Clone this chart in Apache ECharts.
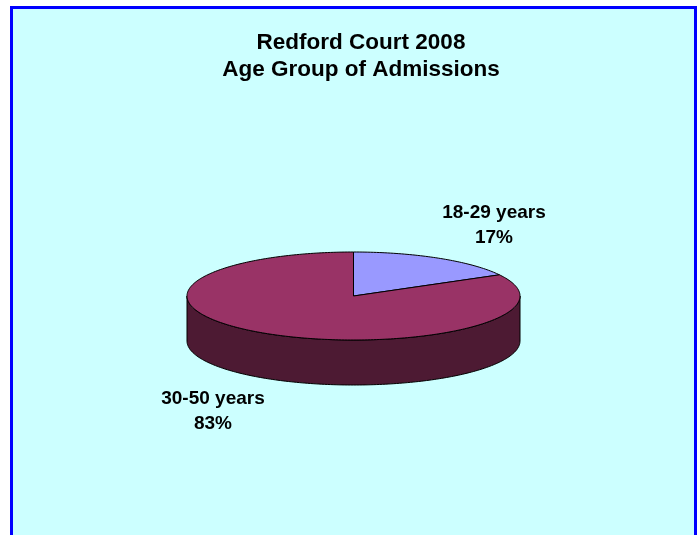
<!DOCTYPE html>
<html>
<head>
<meta charset="utf-8">
<script src="https://cdn.jsdelivr.net/npm/echarts@6/dist/echarts.min.js"></script>
<style>
  html, body { margin: 0; padding: 0; background: #fff; }
  #chart { width: 699px; height: 535px; }
</style>
</head>
<body>
<div id="chart"></div>
<script>
var titleLines = ['Redford Court 2008', 'Age Group of Admissions'];
var categories = ['18-29 years', '30-50 years'];
var values = [17, 83];
var topColors = ['#9999FF', '#993366'];
var sideColors = ['#4D4D80', '#4D1A33'];

// pie geometry (ellipse of the top face, depth of the side)
var cx = 353.5, cy = 296, rx = 166.5, ry = 44, depth = 45;
var labelRx = 276, labelRy = 82;

var total = values.reduce(function ( a, b ) { return a + b }, 0);
var starts = [];
var acc = 0;
for ( var i = 0; i < values.length; i++ ) {
    starts.push( acc / total * Math.PI * 2 );
    acc += values[i];
}

function pt( t, dy ) {
    return [cx + rx * Math.sin( t ), cy - ry * Math.cos( t ) + ( dy || 0 )];
}
function arc( a0, a1, dy ) {
    var pts = [];
    var n = Math.max( 2, Math.ceil(( a1 - a0 ) / ( Math.PI / 180 ) ) );
    for ( var k = 0; k <= n; k++ ) {
        pts.push( pt( a0 + ( a1 - a0 ) * k / n, dy ) );
    }
    return pts;
}

function renderSlice( params, api ) {
    var i = params.dataIndex;
    var v = api.value( 0 );
    var a0 = starts[i];
    var a1 = a0 + v / total * Math.PI * 2;
    var children = [];

    // front side wall (visible where the rim faces the viewer)
    var s = Math.max( a0, Math.PI / 2 ), e = Math.min( a1, Math.PI * 1.5 );
    if ( e > s ) {
        var topRim = arc( s, e, 0 );
        var botRim = arc( s, e, depth ).reverse();
        children.push( {
            type: 'polygon',
            z2: 1,
            shape: { points: topRim.concat( botRim ) },
            style: { fill: sideColors[i], stroke: '#000', lineWidth: 1 }
        } );
    }

    // top face
    children.push( {
        type: 'polygon',
        z2: 10,
        shape: { points: [[cx, cy]].concat( arc( a0, a1, 0 ) ) },
        style: { fill: topColors[i], stroke: '#000', lineWidth: 1 }
    } );

    // label outside the slice
    var mid = ( a0 + a1 ) / 2;
    var lx = cx + labelRx * Math.sin( mid );
    var ly = cy - labelRy * Math.cos( mid ) + ( Math.cos( mid ) < 0 ? depth : 0 );
    children.push( {
        type: 'text',
        z2: 20,
        style: {
            text: categories[i] + '\n' + Math.round( v / total * 100 ) + '%',
            x: lx,
            y: ly,
            align: 'center',
            verticalAlign: 'middle',
            fontFamily: 'Arial, "Liberation Sans", sans-serif',
            fontWeight: 'bold',
            fontSize: 19,
            lineHeight: 25,
            fill: '#000'
        }
    } );

    return { type: 'group', children: children };
}

var config = {
    backgroundColor: '#ffffff',
    animation: false,
    title: {
        text: titleLines.join( '\n' ),
        left: 356,
        textAlign: 'center',
        top: 24,
        textStyle: {
            fontFamily: 'Arial, "Liberation Sans", sans-serif',
            fontWeight: 'bold',
            fontSize: 22.5,
            lineHeight: 27,
            color: '#000'
        }
    },
    graphic: [{
        type: 'rect',
        z: -10,
        silent: true,
        shape: { x: 11.5, y: 7.5, width: 684, height: 600 },
        style: { fill: '#CCFFFF', stroke: '#0000FF', lineWidth: 3 }
    }],
    series: [{
        type: 'custom',
        coordinateSystem: 'none',
        renderItem: renderSlice,
        data: values.map( function ( v, i ) {
            return { name: categories[i], value: v };
        } )
    }]
};

var Chart = echarts.init( document.getElementById( 'chart' ), null, { renderer: 'canvas' } );
Chart.setOption( config );
</script>
</body>
</html>
